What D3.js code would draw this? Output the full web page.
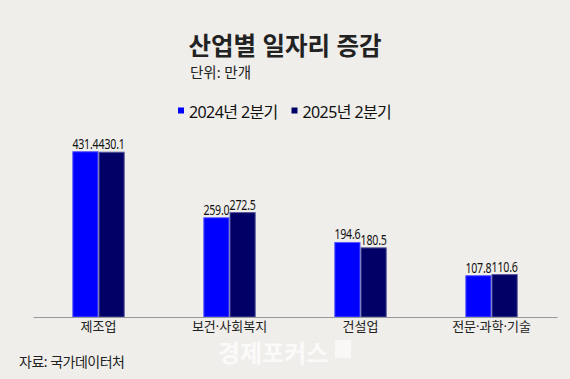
<!DOCTYPE html>
<html><head><meta charset="utf-8">
<script src="https://cdn.jsdelivr.net/npm/d3@7"></script>
<style>body{margin:0;background:#efeeea}svg{display:block}text{font-family:"Noto Sans","Noto Sans CJK KR",sans-serif}</style>
</head><body>
<script>
const categories = ["제조업","보건·사회복지","건설업","전문·과학·기술"];
const seriesNames = ["2024년 2분기","2025년 2분기"];
const values2024 = [431.4,259.0,194.6,107.8];
const values2025 = [430.1,272.5,180.5,110.6];
const colors = ["#0000ff","#000066"];
const strokes = ["#5a5aff","#55559a"];

const W=570,H=379;
const svg=d3.select("body").append("svg").attr("width",W).attr("height",H);
svg.append("rect").attr("width",W).attr("height",H).attr("fill","#efeeea");

const baseY=317;
const x=d3.scaleBand().domain(categories).range([33,557]).paddingInner(0.6).paddingOuter(0.3);
const x1=d3.scaleBand().domain([0,1]).range([0,x.bandwidth()]);
const y=d3.scaleLinear().domain([0,450]).range([baseY,baseY-172.4]);

svg.append("text").attr("x",285).attr("y",55).attr("text-anchor","middle")
  .attr("font-size",24.5).attr("font-weight",700).attr("fill","#222").text("산업별 일자리 증감");
svg.append("text").attr("x",190).attr("y",78).attr("font-size",14.5).attr("fill","#222").text("단위: 만개");

// legend
const lg=[{x:178,i:0},{x:291.5,i:1}];
lg.forEach(l=>{
  svg.append("rect").attr("x",l.x).attr("y",107.5).attr("width",6).attr("height",6).attr("fill",colors[l.i]);
  svg.append("text").attr("x",l.x+11).attr("y",117.5).attr("font-size",16).attr("letter-spacing",-0.6).attr("fill","#111").text(seriesNames[l.i]);
});

const series=[values2024,values2025];
categories.forEach((c,ci)=>{
  const g=svg.append("g").attr("transform",`translate(${x(c)},0)`);
  series.forEach((vals,si)=>{
    const v=vals[ci];
    g.append("rect").attr("x",x1(si)+0.5).attr("y",y(v)).attr("width",x1.bandwidth()-1).attr("height",baseY-y(v))
      .attr("fill",colors[si]).attr("stroke",strokes[si]).attr("stroke-width",1);
    g.append("text").attr("transform",`translate(${x1(si)+x1.bandwidth()/2},${y(v)-3}) scale(0.76,1)`)
      .attr("text-anchor","middle").attr("font-size",14).attr("letter-spacing",-0.3)
      .attr("fill","#111").text(v.toFixed(1));
  });
});

const axis=svg.append("g").attr("transform",`translate(0,${baseY})`).call(d3.axisBottom(x).tickSize(0).tickPadding(5));
axis.select(".domain").attr("stroke","#999").attr("stroke-width",1);
axis.selectAll("text").attr("font-size",13).attr("fill","#222").attr("font-family",'"Noto Sans","Noto Sans CJK KR",sans-serif');

svg.append("text").attr("x",19).attr("y",367).attr("font-size",14).attr("letter-spacing",-0.5).attr("fill","#222").text("자료: 국가데이터처");
svg.append("text").attr("x",218).attr("y",362).attr("font-size",24).attr("font-weight",700).attr("fill","#ffffff").attr("opacity",0.75).text("경제포커스");
svg.append("rect").attr("x",335).attr("y",340).attr("width",16).attr("height",18).attr("fill","#ffffff").attr("opacity",0.6);
</script>
</body></html>
